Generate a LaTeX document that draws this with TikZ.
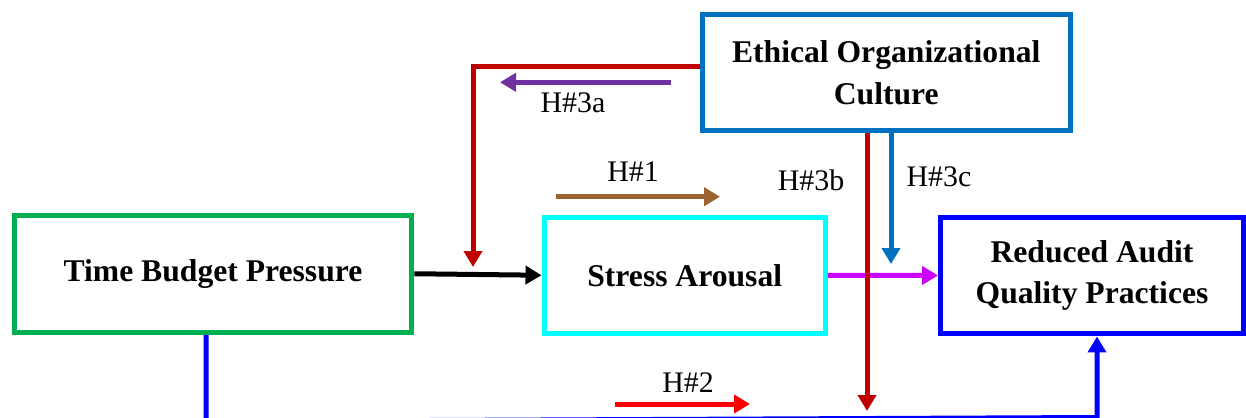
\documentclass[tikz,border=0pt]{standalone}
\usepackage{fontspec}
\setmainfont{Liberation Serif}
\usetikzlibrary{arrows.meta}
\definecolor{cgreen}{HTML}{00B050}
\definecolor{ccyan}{HTML}{00FFFF}
\definecolor{cblue}{HTML}{0000FF}
\definecolor{csteel}{HTML}{0070C0}
\definecolor{cdred}{HTML}{C00000}
\definecolor{cpurple}{HTML}{7030A0}
\definecolor{cbrown}{HTML}{9C6331}
\definecolor{cmag}{HTML}{CC00FF}
\definecolor{cred}{HTML}{FF0000}
\tikzset{
  box/.style={draw, line width=0.1cm, rectangle, align=center, inner sep=0pt,
    font=\fontsize{18}{23.8}\selectfont\bfseries},
  conn/.style={line width=0.1cm, -{Triangle[length=0.32cm,width=0.36cm]}},
  lbl/.style={font=\fontsize{17}{20}\selectfont, inner sep=0pt},
}
\begin{document}
\begin{tikzpicture}[x=0.02cm,y=-0.02cm]
\useasboundingbox (0,0) rectangle (1246,418);
% boxes
\node[box, cgreen, text=black, minimum width=7.96cm, minimum height=2.35cm] (tbp) at (213,273.75) {Time Budget Pressure};
\node[box, ccyan, text=black, minimum width=5.63cm, minimum height=2.33cm] (sa) at (684.75,275.25) {Stress Arousal};
\node[box, cblue, text=black, minimum width=6.06cm, minimum height=2.34cm] (raqp) at (1092,275.5) {Reduced Audit\\Quality Practices};
\node[box, csteel, text=black, minimum width=7.37cm, minimum height=2.34cm] (eoc) at (886.25,72.5) {Ethical Organizational\\Culture};
% helper coordinates
\coordinate (redcorner) at (473,66.7);
\coordinate (redend) at (473,267);
\coordinate (x867) at (867,0);
\coordinate (redend2) at (867,411);
\coordinate (x891) at (891,0);
\coordinate (steelend) at (891,264);
\coordinate (bl1) at (206,421.5);
\coordinate (bl2) at (1097,417.5);
% main connectors
\draw[conn, black] (tbp.east) -- (sa.west);
\draw[conn, cmag] (sa.east) -- (raqp.west);
\draw[conn, cdred] (eoc.west |- redcorner) -- (redcorner) -- (redend);
\draw[conn, cdred] (eoc.south -| x867) -- (redend2);
\draw[conn, csteel] (eoc.south -| x891) -- (steelend);
\draw[conn, cblue] (tbp.south -| bl1) -- (bl1) -- (bl2) -- (raqp.south -| bl2);
% hypothesis arrows and labels
\coordinate (pa1) at (671,82.3);
\coordinate (pa2) at (500,82.3);
\draw[conn, cpurple] (pa1) -- (pa2);
\node[lbl] (h3a) at (573,103) {H\#3a};
\coordinate (ba1) at (556,196.7);
\coordinate (ba2) at (720,196.7);
\draw[conn, cbrown] (ba1) -- (ba2);
\node[lbl] (h1) at (633,171.7) {H\#1};
\coordinate (ra1) at (615,404);
\coordinate (ra2) at (750,404);
\draw[conn, cred] (ra1) -- (ra2);
\node[lbl] (h2) at (688,383) {H\#2};
\node[lbl] (h3b) at (811,180) {H\#3b};
\node[lbl] (h3c) at (939,177) {H\#3c};
\end{tikzpicture}
\end{document}
